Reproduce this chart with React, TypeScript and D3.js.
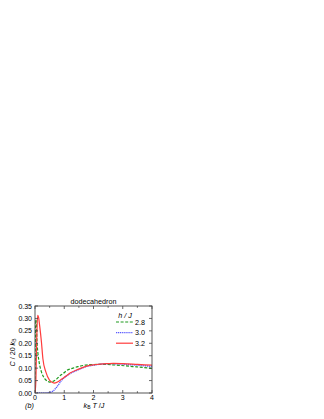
import * as d3 from "d3";

// specific heat curves, one per field h/J
const tRed = [0, 0.03, 0.06, 0.09, 0.12, 0.16, 0.22, 0.27, 0.37, 0.5, 0.6, 0.67, 0.8, 0.9, 1.05, 1.2, 1.47, 1.77, 2.0, 2.23, 2.5, 2.68, 3.0, 3.5, 4];
const cRed = [0, 0.05, 0.22, 0.312, 0.305, 0.27, 0.205, 0.138, 0.085, 0.051, 0.042, 0.04, 0.046, 0.055, 0.067, 0.08, 0.095, 0.108, 0.113, 0.116, 0.118, 0.119, 0.118, 0.115, 0.112];

const tGreen = [0, 0.01, 0.03, 0.05, 0.07, 0.1, 0.14, 0.22, 0.33, 0.42, 0.5, 0.6, 0.73, 0.86, 0.96, 1.08, 1.3, 1.47, 1.88, 2.34, 2.91, 3.48, 4];
const cGreen = [0, 0.2, 0.295, 0.27, 0.205, 0.16, 0.125, 0.085, 0.058, 0.048, 0.044, 0.046, 0.055, 0.07, 0.078, 0.09, 0.1, 0.106, 0.114, 0.115, 0.111, 0.105, 0.099];

const tBlue = [0, 0.3, 0.45, 0.55, 0.62, 0.7, 0.79, 0.9, 1.05, 1.2, 1.47, 1.77, 2.0, 2.23, 2.5, 2.68, 3.0, 3.5, 4];
const cBlue = [0, 0, 0.001, 0.004, 0.008, 0.018, 0.031, 0.05, 0.066, 0.078, 0.093, 0.107, 0.112, 0.116, 0.118, 0.118, 0.116, 0.112, 0.107];

const xTicks = [0, 1, 2, 3, 4];
const xMinor = [0.5, 1.5, 2.5, 3.5];
const yTicks = [0, 0.05, 0.1, 0.15, 0.2, 0.25, 0.3, 0.35];
const legendLabels = ["2.8", "3.0", "3.2"];

const font = "'Liberation Sans', Arial, sans-serif";

export default function App() {
  const left = 35, right = 152, top = 306, bottom = 393;
  const x = d3.scaleLinear([0, 4], [left, right]);
  const y = d3.scaleLinear([0, 0.35], [bottom, top]);

  const line = (ts: number[], cs: number[]) =>
    d3
      .line<number>()
      .x((d, i) => x(ts[i]))
      .y((d) => y(d))
      .curve(d3.curveMonotoneX)(cs);

  const series = [
    { d: line(tGreen, cGreen), color: "#1e9a1e", dash: "3,1.6", w: 1.2 },
    { d: line(tBlue, cBlue), color: "#5c5cff", dash: "1.2,0.7", w: 1.4 },
    { d: line(tRed, cRed), color: "#ff3c3c", dash: null, w: 1.2 },
  ];

  const tick = 3;

  return (
    <svg width={324} height={419} style={{ position: "absolute", left: 0, top: 0 }}>
      <rect width={324} height={419} fill="#fff" />
      <defs>
        <clipPath id="plot">
          <rect x={left} y={top - 10} width={right - left} height={bottom - top + 10} />
        </clipPath>
      </defs>

      <g clipPath="url(#plot)">
        {series.map((s, i) => (
          <path
            key={i}
            d={s.d ?? ""}
            fill="none"
            stroke={s.color}
            strokeWidth={s.w}
            strokeDasharray={s.dash ?? undefined}
          />
        ))}
      </g>

      <rect x={left} y={top} width={right - left} height={bottom - top} fill="none" stroke="#444" strokeWidth={0.9} />

      {xTicks.concat(xMinor).map((t) => {
        const len = xTicks.includes(t) ? tick : tick * 0.6;
        return (
          <g key={"x" + t} stroke="#444" strokeWidth={0.8}>
            <line x1={x(t)} x2={x(t)} y1={bottom} y2={bottom - len} />
            <line x1={x(t)} x2={x(t)} y1={top} y2={top + len} />
          </g>
        );
      })}
      {yTicks.map((t) => (
        <g key={"y" + t} stroke="#444" strokeWidth={0.8}>
          <line x1={left} x2={left + tick} y1={y(t)} y2={y(t)} />
          <line x1={right} x2={right - tick} y1={y(t)} y2={y(t)} />
        </g>
      ))}

      <g fontFamily={font} fontSize={7} fill="#000">
        {xTicks.map((t) => (
          <text key={t} x={x(t)} y={400} textAnchor="middle">
            {t}
          </text>
        ))}
        {yTicks.map((t) => (
          <text key={t} x={32} y={y(t) + 2.5} textAnchor="end">
            {d3.format(".2f")(t)}
          </text>
        ))}
      </g>

      <g fontFamily={font} fontSize={7.2} fill="#000">
        <text x={(left + right) / 2} y={304} textAnchor="middle">dodecahedron</text>
        <text x={94} y={407.5} textAnchor="middle">
          <tspan fontStyle="italic">k</tspan>
          <tspan fontSize={5} dy={1.5}>B</tspan>
          <tspan dy={-1.5} fontStyle="italic"> T</tspan>
          <tspan> /</tspan>
          <tspan fontStyle="italic">J</tspan>
        </text>
        <text x={25} y={407.5} fontStyle="italic">(b)</text>
        <text transform={`translate(14.5,${(top + bottom) / 2 + 3}) rotate(-90)`} textAnchor="middle">
          <tspan fontStyle="italic">C</tspan>
          <tspan> / 20 </tspan>
          <tspan fontStyle="italic">k</tspan>
          <tspan fontSize={5} dy={1.5}>B</tspan>
        </text>
        <text x={125} y={318} textAnchor="middle" fontStyle="italic">h / J</text>
        {legendLabels.map((lab, i) => {
          const ly = 322 + i * 10.6;
          const s = series[i];
          return (
            <g key={lab}>
              <line x1={116} x2={133} y1={ly} y2={ly} stroke={s.color} strokeWidth={s.w} strokeDasharray={s.dash ?? undefined} />
              <text x={135} y={ly + 2.6}>{lab}</text>
            </g>
          );
        })}
      </g>
    </svg>
  );
}
